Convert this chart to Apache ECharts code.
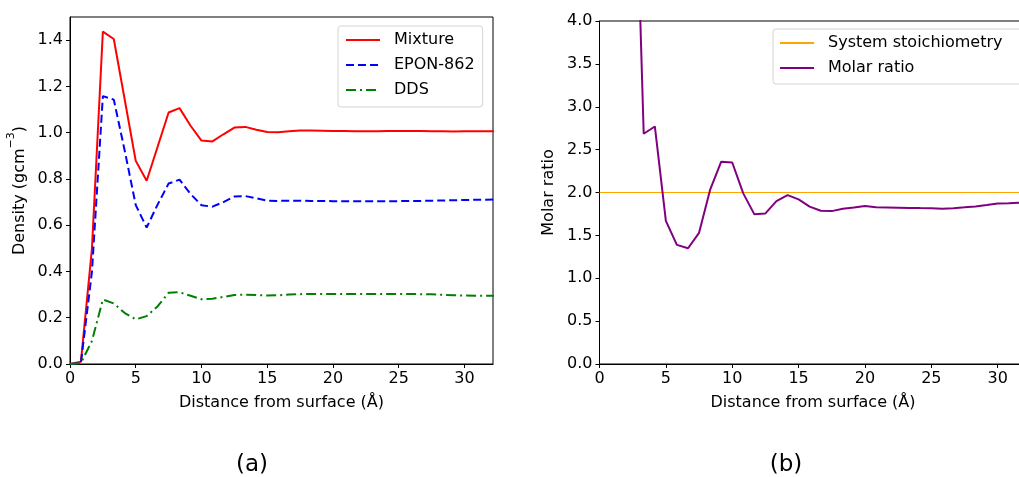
<!DOCTYPE html>
<html>
<head>
<meta charset="utf-8">
<script src="https://cdn.jsdelivr.net/npm/echarts@6/dist/echarts.min.js"></script>
<style>
html,body{margin:0;padding:0;background:#fff;}
#chart{width:1019px;height:477px;}
</style>
</head>
<body>
<div id="chart"></div>
<script>
// ---- data ----
const distance = [0, 0.83, 1.67, 2.5, 3.33, 4.17, 5, 5.83, 6.67, 7.5, 8.33, 9.17, 10, 10.83, 11.67, 12.5, 13.33, 14.17, 15, 15.83, 16.67, 17.5, 18.33, 19.17, 20, 20.83, 21.67, 22.5, 23.33, 24.17, 25, 25.83, 26.67, 27.5, 28.33, 29.17, 30, 30.83, 31.67, 32.5];
const mixture = [0.0, 0.01, 0.50, 1.437, 1.405, 1.14, 0.878, 0.792, 0.94, 1.087, 1.106, 1.03, 0.966, 0.962, 0.993, 1.022, 1.025, 1.013, 1.003, 1.002, 1.006, 1.009, 1.009, 1.008, 1.007, 1.007, 1.006, 1.006, 1.006, 1.007, 1.007, 1.007, 1.007, 1.006, 1.006, 1.005, 1.006, 1.006, 1.006, 1.006];
const epon = [0.0, 0.005, 0.40, 1.158, 1.143, 0.92, 0.687, 0.59, 0.69, 0.78, 0.797, 0.735, 0.686, 0.68, 0.70, 0.724, 0.726, 0.716, 0.706, 0.705, 0.706, 0.706, 0.705, 0.705, 0.704, 0.704, 0.704, 0.704, 0.704, 0.704, 0.704, 0.705, 0.705, 0.706, 0.707, 0.708, 0.709, 0.710, 0.710, 0.711];
const dds = [0.0, 0.004, 0.10, 0.279, 0.262, 0.22, 0.193, 0.207, 0.25, 0.308, 0.31, 0.295, 0.28, 0.282, 0.29, 0.298, 0.30, 0.298, 0.296, 0.297, 0.30, 0.302, 0.303, 0.303, 0.303, 0.303, 0.303, 0.303, 0.303, 0.303, 0.303, 0.303, 0.302, 0.301, 0.299, 0.297, 0.296, 0.295, 0.295, 0.295];
const molarRatio = [null, null, null, 7.0, 2.685, 2.77, 1.67, 1.389, 1.35, 1.53, 2.03, 2.36, 2.35, 1.99, 1.745, 1.756, 1.90, 1.97, 1.92, 1.835, 1.787, 1.783, 1.81, 1.825, 1.842, 1.828, 1.826, 1.823, 1.82, 1.818, 1.817, 1.81, 1.817, 1.827, 1.838, 1.855, 1.873, 1.876, 1.88, 1.88];
const stoichiometry = 2.0;
const xTicks = [0, 5, 10, 15, 20, 25, 30];
const densityTicks = [0, 0.2, 0.4, 0.6, 0.8, 1.0, 1.2, 1.4];
const ratioTicks = [0, 0.5, 1.0, 1.5, 2.0, 2.5, 3.0, 3.5, 4.0];
const xMax = 32.17;

const FONT = 'DejaVu Sans';
const pairs = (ys) => distance.map((d, i) => [d, ys[i] === null ? '-' : ys[i]]);

function xAxisCfg(gridIndex) {
  return {
    type: 'value', gridIndex, min: 0, max: xMax,
    name: 'Distance from surface (Å)', nameLocation: 'middle', nameGap: 31,
    nameTextStyle: {fontFamily: FONT, fontSize: 16, color: '#000'},
    axisLine: {show: true, onZero: false, lineStyle: {color: '#000', width: 1}},
    axisTick: {show: true, length: 4, lineStyle: {color: '#000'}, customValues: xTicks},
    axisLabel: {fontFamily: FONT, fontSize: 16, color: '#000', margin: 7, customValues: xTicks},
    splitLine: {show: false}
  };
}
function yAxisCfg(gridIndex, max, ticks, name, nameGap, rich) {
  return {
    type: 'value', gridIndex, min: 0, max,
    name, nameLocation: 'middle', nameGap,
    nameTextStyle: {fontFamily: FONT, fontSize: 16, color: '#000', rich},
    axisLine: {show: true, onZero: false, lineStyle: {color: '#000', width: 1}},
    axisTick: {show: true, length: 4, lineStyle: {color: '#000'}, customValues: ticks},
    axisLabel: {fontFamily: FONT, fontSize: 16, color: '#000', margin: 7, customValues: ticks,
      formatter: (v) => Number(v).toFixed(1)},
    splitLine: {show: false}
  };
}

const legendCommon = {
  orient: 'vertical', itemWidth: 34, itemHeight: 16, itemGap: 9,
  backgroundColor: '#fff', borderColor: '#d4d4d4', borderWidth: 1, borderRadius: 3,
  itemStyle: {color: 'transparent', borderColor: 'transparent', borderWidth: 0, opacity: 0},
  textStyle: {fontFamily: FONT, fontSize: 16, color: '#000', padding: [0, 0, 0, 9]},
  selectedMode: false
};

const chart = echarts.init(document.getElementById('chart'), null, {renderer: 'canvas'});
chart.setOption({
  animation: false,
  backgroundColor: '#fff',
  grid: [
    {left: 70, top: 17, width: 423, height: 347, show: true, borderColor: '#000', borderWidth: 1, backgroundColor: 'transparent', containLabel: false, outerBoundsMode: 'none'},
    {left: 599.5, top: 21, width: 427, height: 343, show: true, borderColor: '#000', borderWidth: 1, backgroundColor: 'transparent', containLabel: false, outerBoundsMode: 'none'}
  ],
  xAxis: [xAxisCfg(0), xAxisCfg(1)],
  yAxis: [
    yAxisCfg(0, 1.5, densityTicks, '{a|Density (gcm}{s|−3}{a|)}', 42,
      {a: {fontFamily: FONT, fontSize: 16, color: '#000', lineHeight: 22, verticalAlign: 'bottom'},
       s: {fontFamily: FONT, fontSize: 11, color: '#000', lineHeight: 22, verticalAlign: 'top'}}),
    yAxisCfg(1, 4.0, ratioTicks, 'Molar ratio', 43, undefined)
  ],
  legend: [
    Object.assign({}, legendCommon, {data: ['Mixture', 'EPON-862', 'DDS'], left: 338, top: 26, padding: [6, 8, 9, 7]}),
    Object.assign({}, legendCommon, {data: ['System stoichiometry', 'Molar ratio'], left: 773, top: 29, padding: [6, 20, 8, 6]})
  ],
  series: [
    {name: 'Mixture', type: 'line', xAxisIndex: 0, yAxisIndex: 0, data: pairs(mixture), symbol: 'none',
      lineStyle: {color: '#ff0000', width: 2}, itemStyle: {color: '#ff0000'}},
    {name: 'EPON-862', type: 'line', xAxisIndex: 0, yAxisIndex: 0, data: pairs(epon), symbol: 'none',
      lineStyle: {color: '#0000ff', width: 2, type: [8, 4]}, itemStyle: {color: '#0000ff'}},
    {name: 'DDS', type: 'line', xAxisIndex: 0, yAxisIndex: 0, data: pairs(dds), symbol: 'none',
      lineStyle: {color: '#008000', width: 2, type: [10, 4, 2, 4]}, itemStyle: {color: '#008000'}},
    {name: 'System stoichiometry', type: 'line', xAxisIndex: 1, yAxisIndex: 1,
      data: [[0, stoichiometry], [distance[distance.length - 1], stoichiometry]], symbol: 'none',
      lineStyle: {color: '#ffa500', width: 1.2}, itemStyle: {color: '#ffa500'}},
    {name: 'Molar ratio', type: 'line', xAxisIndex: 1, yAxisIndex: 1, data: pairs(molarRatio), symbol: 'none',
      connectNulls: false, clip: true,
      lineStyle: {color: '#800080', width: 2}, itemStyle: {color: '#800080'}}
  ],
  graphic: [
    {type: 'text', x: 252, y: 465, style: {text: '(a)', font: '23px "DejaVu Sans"', fill: '#000', textAlign: 'center', textVerticalAlign: 'middle'}},
    {type: 'text', x: 786, y: 465, style: {text: '(b)', font: '23px "DejaVu Sans"', fill: '#000', textAlign: 'center', textVerticalAlign: 'middle'}}
  ]
});
</script>
</body>
</html>
